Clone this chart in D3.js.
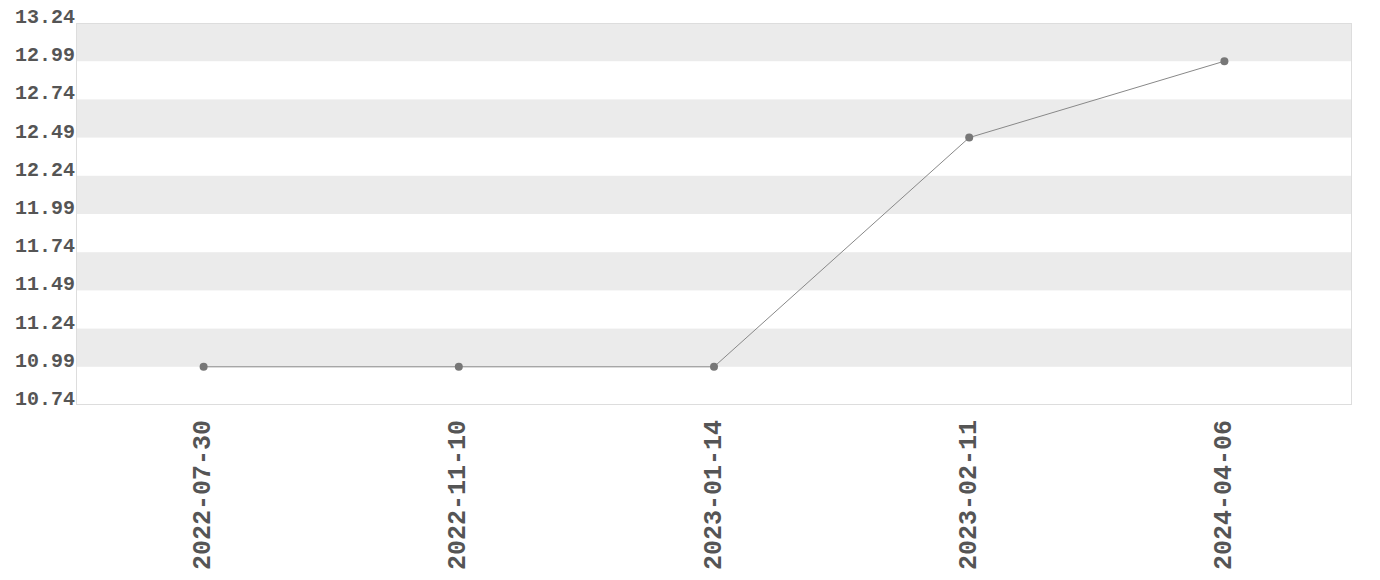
<!DOCTYPE html>
<html>
<head>
<meta charset="utf-8">
<script src="https://cdn.jsdelivr.net/npm/d3@7"></script>
<style>
  body { margin: 0; background: #fff; }
  svg text { font-family: "Liberation Mono", monospace; font-weight: bold; fill: #555; }
</style>
</head>
<body>
<svg id="chart"></svg>
<script>
// data
const dates = ["2022-07-30", "2022-11-10", "2023-01-14", "2023-02-11", "2024-04-06"];
const values = [10.99, 10.99, 10.99, 12.49, 12.99];
const yTicks = [10.74, 10.99, 11.24, 11.49, 11.74, 11.99, 12.24, 12.49, 12.74, 12.99, 13.24];

const width = 1380, height = 580;
const margin = { top: 23, right: 28, bottom: 175, left: 76 };

const svg = d3.select("#chart").attr("width", width).attr("height", height);

const x = d3.scaleBand()
  .domain(dates)
  .range([margin.left, width - margin.right]);

const y = d3.scaleLinear()
  .domain([10.74, 13.24])
  .range([height - margin.bottom, margin.top]);

// alternating bands
const bands = d3.pairs(yTicks).filter((d, i) => i % 2 === 1);
svg.append("g")
  .selectAll("rect")
  .data(bands)
  .join("rect")
  .attr("x", margin.left)
  .attr("width", width - margin.right - margin.left)
  .attr("y", d => y(d[1]))
  .attr("height", d => y(d[0]) - y(d[1]))
  .attr("fill", "#ebebeb");

// frame
svg.append("rect")
  .attr("x", margin.left + 0.5)
  .attr("y", margin.top + 0.5)
  .attr("width", width - margin.right - margin.left - 1)
  .attr("height", height - margin.bottom - margin.top - 1)
  .attr("fill", "none")
  .attr("stroke", "#ddd");

// y labels
svg.append("g")
  .selectAll("text")
  .data(yTicks)
  .join("text")
  .attr("x", margin.left - 1)
  .attr("y", d => y(d))
  .attr("text-anchor", "end")
  .attr("font-size", 20)
  .text(d => d.toFixed(2));

// x labels
svg.append("g")
  .selectAll("text")
  .data(dates)
  .join("text")
  .attr("transform", d => `translate(${x(d) + x.bandwidth() / 2},${height - margin.bottom + 15}) rotate(-90)`)
  .attr("text-anchor", "end")
  .attr("dominant-baseline", "middle")
  .attr("font-size", 25)
  .text(d => d);

// line
const pts = dates.map((d, i) => [x(d) + x.bandwidth() / 2, y(values[i])]);
svg.append("path")
  .attr("d", d3.line()(pts))
  .attr("fill", "none")
  .attr("stroke", "#888")
  .attr("stroke-width", 1);

svg.append("g")
  .selectAll("circle")
  .data(pts)
  .join("circle")
  .attr("cx", d => d[0])
  .attr("cy", d => d[1])
  .attr("r", 4)
  .attr("fill", "#777");
</script>
</body>
</html>
